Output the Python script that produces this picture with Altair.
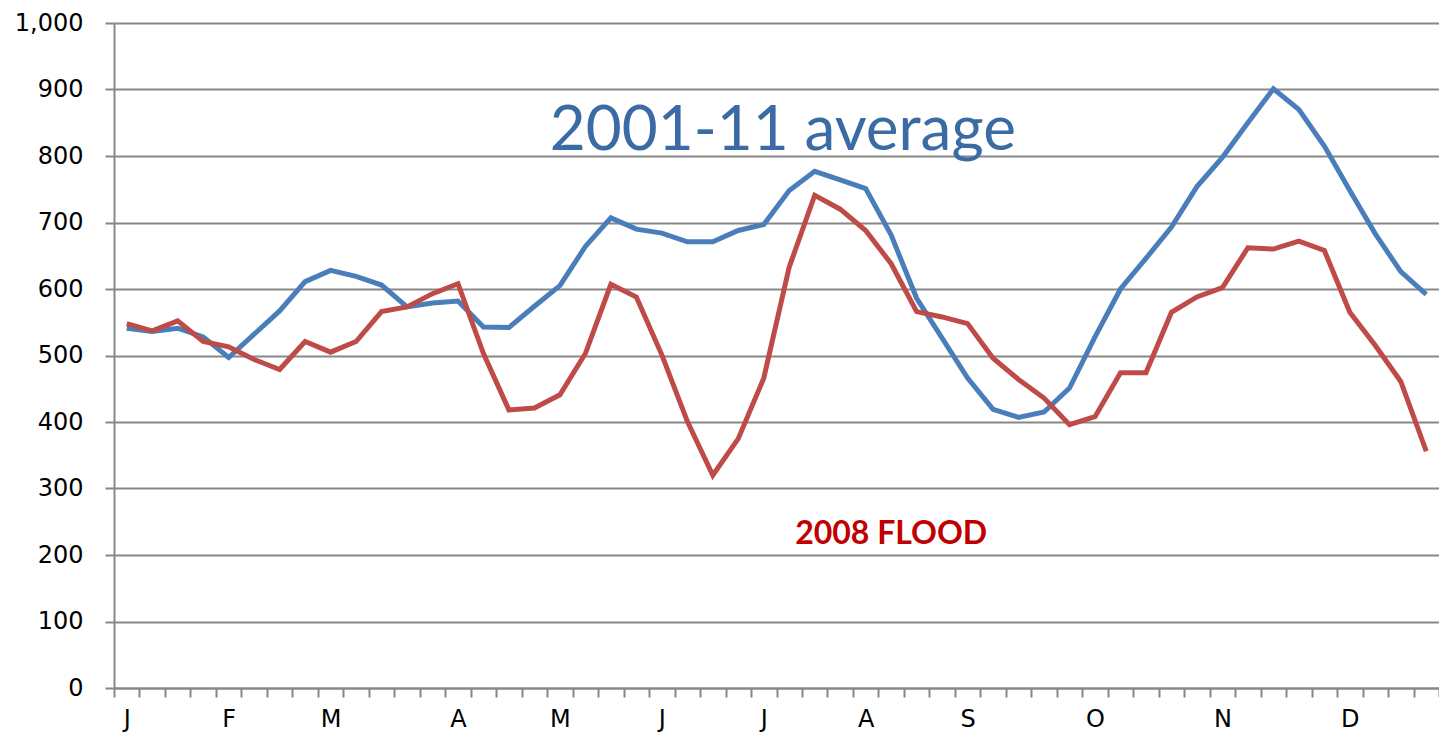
import altair as alt
import pandas as pd

# ---- data (weekly values, 52 weeks) ----
weeks = list(range(1, 53))

avg_2001_11 = [
    541, 536, 541, 528, 497, 532, 567, 611, 628, 619,
    606, 573, 579, 582, 543, 542, 574, 605, 664, 707,
    690, 684, 671, 671, 688, 697, 748, 777, 764, 751,
    681, 586, 526, 466, 419, 407, 415, 451, 528, 600,
    646, 693, 754, 798, 850, 901, 870, 815, 748, 683,
    626, 592,
]

flood_2008 = [
    548, 537, 552, 521, 513, 494, 479, 521, 505, 521,
    566, 573, 593, 608, 503, 418, 421, 441, 503, 607,
    588, 501, 401, 320, 375, 466, 633, 741, 720, 688,
    638, 566, 558, 548, 496, 464, 436, 396, 408, 474,
    474, 565, 588, 602, 662, 660, 672, 658, 565, 515,
    461, 356,
]

month_letters = ["J", "F", "M", "A", "M", "J", "J", "A", "S", "O", "N", "D"]
month_start_weeks = [1, 5, 9, 14, 18, 22, 26, 30, 34, 39, 44, 49]
y_ticks = list(range(0, 1001, 100))

annot_text = ["2001-11 average", "2008 FLOOD"]
annot_week = [26.75, 31.0]
annot_value = [838, 231]

# ---- tables ----
df_avg = pd.DataFrame({"week": weeks, "value": avg_2001_11})
df_flood = pd.DataFrame({"week": weeks, "value": flood_2008})
df_a1 = pd.DataFrame({"week": [annot_week[0]], "value": [annot_value[0]], "t": [annot_text[0]]})
df_a2 = pd.DataFrame({"week": [annot_week[1]], "value": [annot_value[1]], "t": [annot_text[1]]})

W, H = 1325, 665
band = W / len(weeks)

tick_vals = [w - 0.5 for w in range(1, len(weeks) + 2)]
expr = "''"
for w, m in reversed(list(zip(month_start_weeks, month_letters))):
    expr = f"datum.value == {w - 0.5} ? '{m}' : ({expr})"

GRAY = "#878787"
AXIS_FONT = "DejaVu Sans"

x_enc = alt.X(
    "week:Q",
    scale=alt.Scale(domain=[0.5, len(weeks) + 0.5], nice=False, zero=False),
    axis=alt.Axis(
        values=tick_vals,
        tickCount=200,
        labelExpr=expr,
        labelOffset=band / 2,
        grid=False,
        tickSize=9,
        tickWidth=2,
        tickColor=GRAY,
        domainColor=GRAY,
        domainWidth=2,
        labelPadding=10,
        labelFont=AXIS_FONT,
        labelFontSize=24,
        labelColor="#000000",
        labelOverlap=False,
        labelFlush=False,
        title=None,
    ),
)

y_enc = alt.Y(
    "value:Q",
    scale=alt.Scale(domain=[0, 1000], nice=False),
    axis=alt.Axis(
        values=y_ticks,
        tickCount=20,
        format=",d",
        grid=True,
        gridColor=GRAY,
        gridWidth=2,
        tickSize=9,
        tickWidth=2,
        tickColor=GRAY,
        domainColor=GRAY,
        domainWidth=2,
        labelPadding=22,
        labelFont=AXIS_FONT,
        labelFontSize=24,
        labelColor="#000000",
        title=None,
    ),
)

line_avg = alt.Chart(df_avg).mark_line(color="#4a7ebb", strokeWidth=5, strokeJoin="miter").encode(
    x=x_enc, y=y_enc
)
line_flood = alt.Chart(df_flood).mark_line(color="#be4b48", strokeWidth=5, strokeJoin="miter").encode(
    x="week:Q", y="value:Q"
)

txt_avg = alt.Chart(df_a1).mark_text(
    font="Lato", fontSize=62, color="#3b6ba5", align="center", baseline="middle"
).encode(x="week:Q", y="value:Q", text="t:N")

txt_flood = alt.Chart(df_a2).mark_text(
    font="Lato", fontSize=32, fontWeight="bold", color="#c00000", align="center", baseline="middle"
).encode(x="week:Q", y="value:Q", text="t:N")

chart = (
    alt.layer(line_avg, line_flood, txt_avg, txt_flood)
    .properties(
        width=W,
        height=H,
        autosize=alt.AutoSizeParams(type="none"),
        padding={"left": 106, "top": 15, "right": 0, "bottom": 47},
        background="white",
    )
    .configure_view(stroke=None)
)

chart.save("out.html", embed_options={"renderer": "svg", "actions": False})
